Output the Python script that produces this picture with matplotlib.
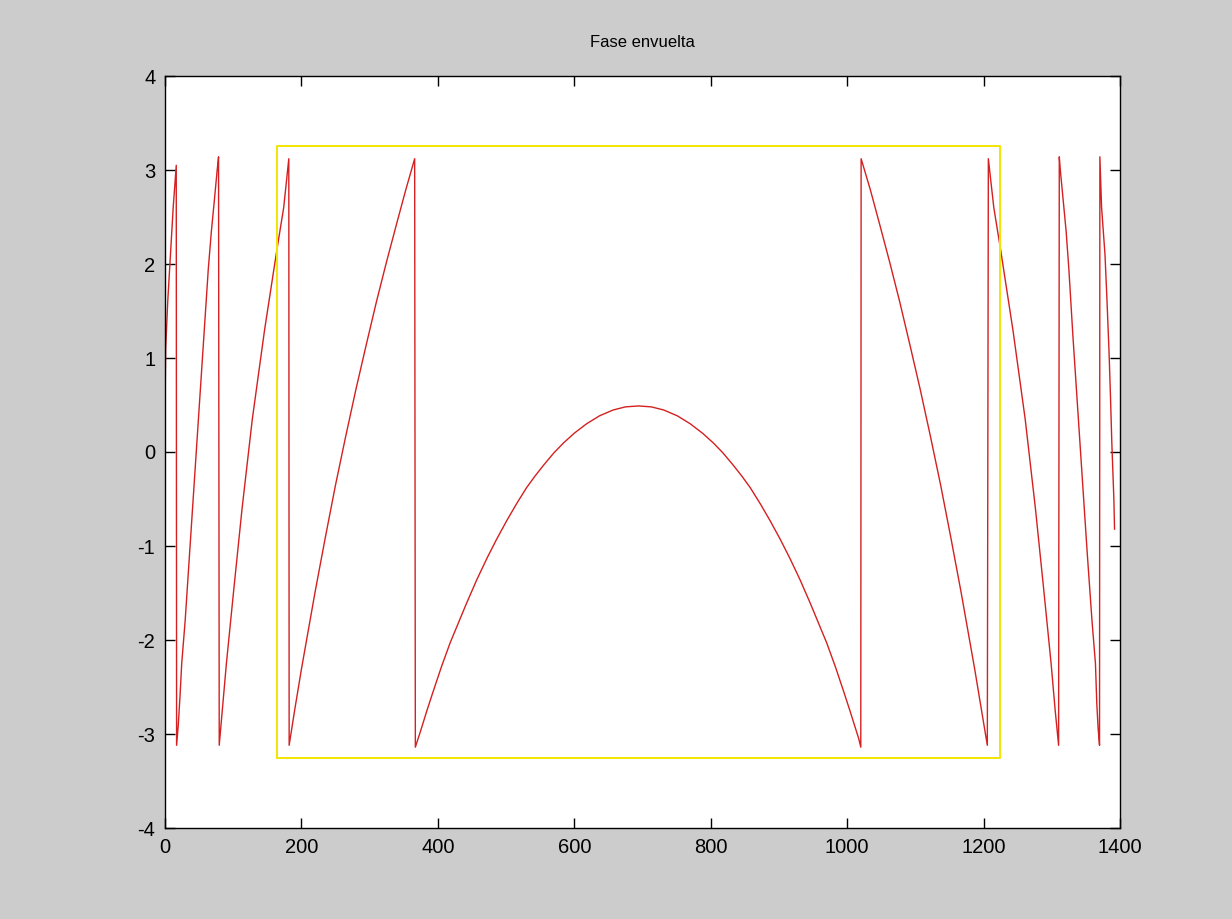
import numpy as np
from matplotlib import pyplot as plt

# wrapped phase (x = sample index, y = rad)
seg_a_x = [0, 1, 4, 8, 12, 15, 16.5]
seg_a_y = [0.5, 1.1, 1.6, 2.1, 2.6, 2.9, 3.05]

seg_b_x = [17, 19.5, 22, 24.5, 29.5, 36, 43, 50, 57, 63.5, 68, 72, 76.5, 78.5]
seg_b_y = [-3.12, -2.9, -2.6, -2.25, -1.8, -1.08, -0.31, 0.46, 1.23, 1.95, 2.35, 2.65, 3.0, 3.14]

seg_c_x = [79.5, 84, 90, 101, 113, 128, 146, 164, 174, 181.5]
seg_c_y = [-3.12, -2.75, -2.25, -1.45, -0.6, 0.35, 1.3, 2.15, 2.6, 3.12]

seg_d_x = [182, 190, 200, 210, 220, 235, 250, 265, 280, 295, 310, 325, 340, 353, 366]
seg_d_y = [-3.12, -2.75, -2.31, -1.90, -1.49, -0.91, -0.35, 0.17, 0.67, 1.14, 1.60, 2.03, 2.44, 2.79, 3.12]

arc_x = [367, 371, 375, 384, 393, 405, 418, 430, 442, 457, 472, 486, 501, 515, 530, 542,
         555, 570, 584, 600, 618, 637, 657, 675, 694, 713, 731, 751, 770, 788, 804, 818,
         833, 846, 858, 873, 887, 902, 916, 931, 946, 958, 970, 983, 995, 1004, 1013, 1017, 1020]
arc_y = [-3.14, -3.05, -2.96, -2.75, -2.55, -2.29, -2.03, -1.82, -1.61, -1.36, -1.13, -0.93,
         -0.73, -0.555, -0.38, -0.26, -0.14, -0.01, 0.095, 0.20, 0.30, 0.385, 0.447, 0.48, 0.49,
         0.48, 0.447, 0.385, 0.30, 0.20, 0.095, -0.01, -0.14, -0.26, -0.38, -0.555, -0.73, -0.93,
         -1.13, -1.36, -1.61, -1.82, -2.03, -2.29, -2.55, -2.75, -2.96, -3.05, -3.14]

seg_e_x = [1020.5, 1034, 1047, 1062, 1077, 1092, 1107, 1122, 1137, 1152, 1167, 1177, 1187, 1197, 1205.5]
seg_e_y = [3.12, 2.79, 2.44, 2.03, 1.60, 1.14, 0.67, 0.17, -0.35, -0.91, -1.49, -1.90, -2.31, -2.75, -3.12]

seg_f_x = [1207, 1215, 1225, 1243, 1261, 1276, 1288, 1299, 1305, 1310]
seg_f_y = [3.12, 2.6, 2.15, 1.3, 0.35, -0.6, -1.45, -2.25, -2.75, -3.12]

seg_g_x = [1311, 1312.5, 1317, 1321, 1325, 1331, 1338, 1345, 1352, 1359, 1364, 1366, 1368, 1370]
seg_g_y = [3.14, 3.0, 2.65, 2.35, 1.95, 1.23, 0.46, -0.31, -1.08, -1.8, -2.25, -2.68, -2.95, -3.12]

seg_h_x = [1370.5, 1373, 1378, 1381, 1384, 1386, 1388, 1391, 1392]
seg_h_y = [3.14, 2.6, 2.1, 1.6, 1.05, 0.6, 0.1, -0.5, -0.82]

# yellow window
box_x = [164, 1224, 1224, 164, 164]
box_y = [-3.26, -3.26, 3.25, 3.25, -3.26]

phase_x = np.concatenate([seg_a_x, seg_b_x, seg_c_x, seg_d_x, arc_x, seg_e_x, seg_f_x, seg_g_x, seg_h_x])
phase_y = np.concatenate([seg_a_y, seg_b_y, seg_c_y, seg_d_y, arc_y, seg_e_y, seg_f_y, seg_g_y, seg_h_y])

plt.rcParams['font.family'] = ['Liberation Sans', 'DejaVu Sans']
plt.rcParams['axes.unicode_minus'] = False

fig = plt.figure(figsize=(12.32, 9.19), dpi=100, facecolor='#cccccc')
ax = fig.add_axes([165 / 1232, 1 - 828 / 919, (1120 - 165) / 1232, (828 - 76) / 919])
ax.set_facecolor('white')

ax.plot(phase_x, phase_y, color='#d42020', linewidth=1.0)
ax.plot(box_x, box_y, color='#f2e600', linewidth=1.4)

ax.set_xlim(0, 1400)
ax.set_ylim(-4, 4)
ax.set_xticks(np.arange(0, 1401, 200))
ax.set_yticks(np.arange(-4, 5, 1))
ax.tick_params(direction='in', length=7, width=1, top=True, right=True,
               labelsize=14.5, pad=7, colors='black')
for s in ax.spines.values():
    s.set_linewidth(1.0)
    s.set_color('black')

ax.set_title('Fase envuelta', fontsize=12, pad=21)

fig.savefig('out.png', dpi=100, facecolor=fig.get_facecolor())
